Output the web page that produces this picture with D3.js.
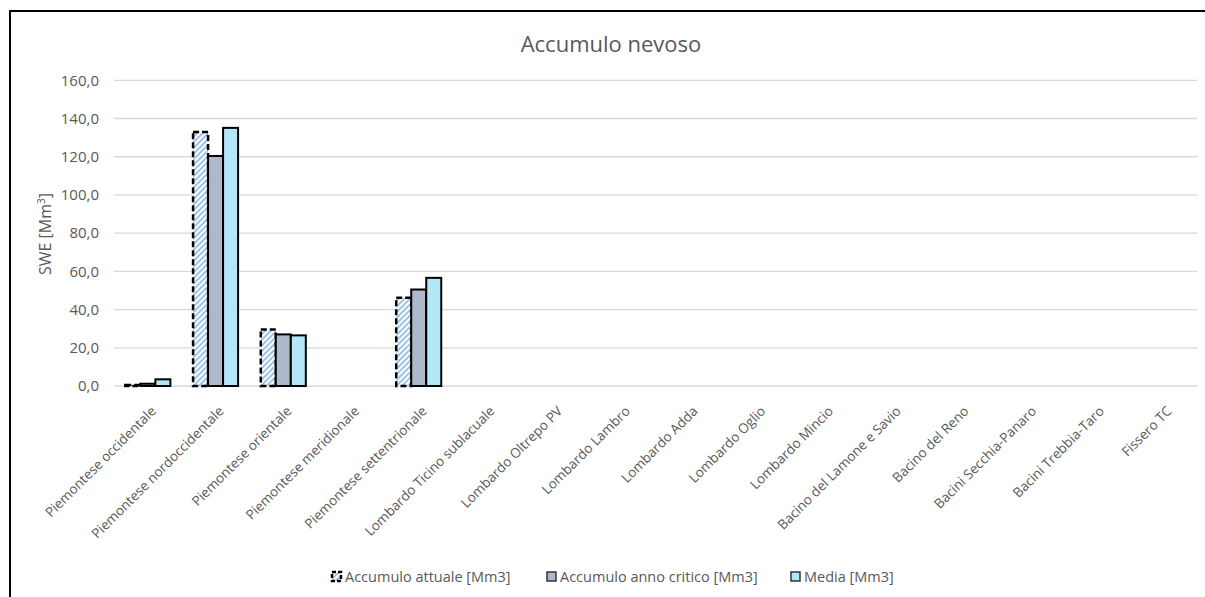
<!DOCTYPE html>
<html lang="it">
<head>
  <meta charset="UTF-8">
  <title>Accumulo nevoso</title>
  <script src="https://d3js.org/d3.v7.min.js"></script>
  <style>
    body { margin: 0; background: #fff; }
    svg { display: block; font-family: "Open Sans", sans-serif; }
  </style>
</head>
<body>
  <svg id="chart"></svg>

  <script>
    // categorie (bacini)
    const categories = [
      "Piemontese occidentale", "Piemontese nordoccidentale", "Piemontese orientale",
      "Piemontese meridionale", "Piemontese settentrionale", "Lombardo Ticino sublacuale",
      "Lombardo Oltrepo PV", "Lombardo Lambro", "Lombardo Adda", "Lombardo Oglio",
      "Lombardo Mincio", "Bacino del Lamone e Savio", "Bacino del Reno",
      "Bacini Secchia-Panaro", "Bacini Trebbia-Taro", "Fissero TC"
    ];

    // valori (Mm3)
    const attuale = [0.5, 133.0, 29.6, 0, 46.2, 0, 0, 0, 0, 0, 0, 0, 0, 0, 0, 0];
    const critico = [1.2, 120.4, 27.0, 0, 50.5, 0, 0, 0, 0, 0, 0, 0, 0, 0, 0, 0];
    const media   = [3.5, 135.1, 26.5, 0, 56.6, 0, 0, 0, 0, 0, 0, 0, 0, 0, 0, 0];

    const seriesNames = ["Accumulo attuale [Mm3]", "Accumulo anno critico [Mm3]", "Media [Mm3]"];
    const yTicks = [0, 20, 40, 60, 80, 100, 120, 140, 160];

    const width = 1205, height = 597;
    const margin = { left: 114, right: 1197.5, top: 80.3, bottom: 386 };

    const svg = d3.select("#chart")
      .attr("width", width)
      .attr("height", height);

    // tratteggio per la serie "attuale"
    const defs = svg.append("defs");
    const pat = defs.append("pattern")
      .attr("id", "hatch")
      .attr("patternUnits", "userSpaceOnUse")
      .attr("width", 4)
      .attr("height", 4)
      .attr("patternTransform", "rotate(45)");
    pat.append("rect").attr("width", 4).attr("height", 4).attr("fill", "#fff");
    pat.append("rect").attr("width", 2).attr("height", 4).attr("fill", "#9dc3e6");

    const data = categories.map((c, i) => ({
      cat: c,
      values: [attuale[i], critico[i], media[i]]
    }));

    const x = d3.scaleBand()
      .domain(categories)
      .range([margin.left, margin.right])
      .paddingInner(0.335)
      .paddingOuter(0.1675);

    const xs = d3.scaleBand()
      .domain(d3.range(seriesNames.length))
      .range([0, x.bandwidth()]);

    const y = d3.scaleLinear()
      .domain([0, 160])
      .range([margin.bottom, margin.top]);

    // bordo del grafico
    svg.append("rect")
      .attr("x", 10).attr("y", 11)
      .attr("width", 1400).attr("height", 800)
      .attr("fill", "none")
      .attr("stroke", "#000")
      .attr("stroke-width", 2);

    // titolo
    svg.append("text")
      .attr("x", 611)
      .attr("y", 52)
      .attr("text-anchor", "middle")
      .style("font-size", "22px")
      .style("fill", "#595959")
      .text("Accumulo nevoso");

    // griglia
    svg.append("g")
      .selectAll("line")
      .data(yTicks)
      .enter().append("line")
      .attr("x1", margin.left)
      .attr("x2", margin.right)
      .attr("y1", d => y(d))
      .attr("y2", d => y(d))
      .style("stroke", "#d9d9d9")
      .style("stroke-width", 1.3);

    // etichette asse y
    const fmt = d => d3.format(".1f")(d).replace(".", ",");
    svg.append("g")
      .selectAll("text")
      .data(yTicks)
      .enter().append("text")
      .attr("x", 99)
      .attr("y", d => y(d))
      .attr("dy", "0.35em")
      .attr("text-anchor", "end")
      .style("font-size", "15px")
      .style("fill", "#595959")
      .text(fmt);

    // titolo asse y
    const yl = svg.append("text")
      .attr("transform", "translate(51,234) rotate(-90)")
      .attr("text-anchor", "middle")
      .style("font-size", "16px")
      .style("fill", "#595959");
    yl.append("tspan").text("SWE [Mm");
    yl.append("tspan").attr("dy", -6).style("font-size", "10px").text("3");
    yl.append("tspan").attr("dy", 6).text("]");

    // barre
    const fills = ["url(#hatch)", "#adb9ca", "#b3e6f6"];
    const groups = svg.append("g")
      .selectAll("g")
      .data(data)
      .enter().append("g")
      .attr("transform", d => `translate(${x(d.cat)},0)`);

    groups.selectAll("rect")
      .data(d => d.values.map((v, k) => ({ v, k })).filter(e => e.v > 0))
      .enter().append("rect")
      .attr("x", d => xs(d.k))
      .attr("y", d => y(d.v))
      .attr("width", xs.bandwidth())
      .attr("height", d => y(0) - y(d.v))
      .style("fill", d => fills[d.k])
      .style("stroke", "#000")
      .style("stroke-width", d => d.k === 0 ? 2.5 : 2)
      .style("stroke-dasharray", d => d.k === 0 ? "6,3" : null);

    // etichette categorie
    svg.append("g")
      .selectAll("text")
      .data(categories)
      .enter().append("text")
      .attr("transform", d => `translate(${x(d) + x.bandwidth() / 2 + 9},412) rotate(-45)`)
      .attr("text-anchor", "end")
      .style("font-size", "13.5px")
      .style("fill", "#595959")
      .text(d => d);

    // legenda
    const legendX = [332, 547, 791];
    const legend = svg.append("g")
      .selectAll("g")
      .data(seriesNames)
      .enter().append("g")
      .attr("transform", (d, i) => `translate(${legendX[i]},572)`);

    legend.append("rect")
      .attr("width", 9)
      .attr("height", 9)
      .style("fill", (d, i) => fills[i])
      .style("stroke", (d, i) => i === 0 ? "#000" : "#333")
      .style("stroke-width", (d, i) => i === 0 ? 2.5 : 1.5)
      .style("stroke-dasharray", (d, i) => i === 0 ? "4,2" : null);

    legend.append("text")
      .attr("x", 13)
      .attr("y", 5)
      .attr("dy", "0.35em")
      .style("font-size", "14.5px")
      .style("fill", "#595959")
      .text(d => d);
  </script>
</body>
</html>
